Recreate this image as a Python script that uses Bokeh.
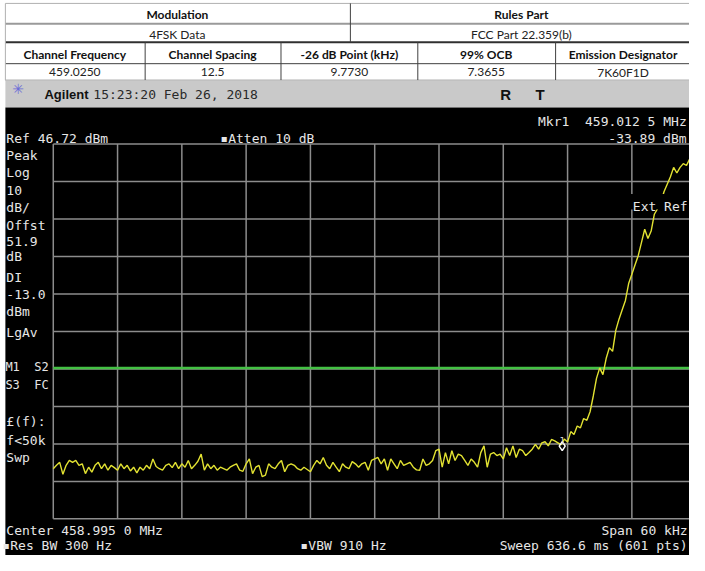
import numpy as np
from bokeh.plotting import figure
from bokeh.models import Range1d
from bokeh.core.properties import value
from bokeh.embed import file_html
from bokeh.resources import INLINE

# ---------------- data ----------------
center_mhz = 458.9950
span_khz = 60.0
ref_level_dbm = 46.72
db_per_div = 10.0
n_div = 10
display_line_dbm = -13.0
marker_freq_mhz = 459.0125
marker_level_dbm = -33.89
trace_step_khz = 0.3

trace_dbm = [
    -39.9, -39.0, -38.2, -41.4, -39.0, -37.7, -38.2, -37.7, -39.0, -38.6,
    -41.2, -39.5, -40.8, -39.0, -38.2, -39.9, -38.6, -40.3, -39.0, -39.6,
    -40.3, -38.6, -39.9, -39.0, -40.5, -39.5, -41.0, -39.5, -40.3, -39.0,
    -39.9, -37.3, -39.3, -39.9, -40.3, -39.0, -38.6, -39.6, -38.2, -39.9,
    -38.6, -39.5, -37.7, -39.9, -39.0, -37.9, -36.0, -40.3, -38.6, -39.9,
    -39.0, -40.3, -39.5, -39.9, -40.3, -39.5, -39.0, -38.6, -40.3, -40.6,
    -38.6, -37.3, -41.2, -39.5, -39.0, -42.0, -41.6, -38.6, -39.5, -39.9,
    -38.6, -37.7, -40.7, -39.0, -38.6, -39.0, -39.9, -40.3, -39.5, -40.1,
    -40.7, -39.0, -37.7, -38.6, -36.9, -39.0, -39.9, -38.2, -39.5, -40.7,
    -38.6, -39.5, -39.9, -38.0, -38.6, -39.5, -38.6, -38.2, -40.3, -37.7,
    -37.3, -36.9, -38.6, -37.3, -40.3, -37.3, -38.6, -39.9, -37.7, -39.0,
    -38.6, -38.2, -39.5, -40.2, -40.3, -37.3, -39.0, -38.6, -37.7, -35.1,
    -34.7, -39.5, -35.6, -38.6, -35.1, -37.7, -36.0, -36.4, -37.7, -39.0,
    -37.3, -38.2, -39.5, -35.6, -33.8, -39.5, -36.0, -35.6, -36.4, -36.0,
    -37.3, -34.3, -36.4, -33.8, -36.9, -34.7, -35.1, -36.4, -35.6, -34.7,
    -33.4, -34.7, -33.0, -32.7, -33.8, -32.1, -32.5, -33.0, -33.5, -32.0,
    -32.8, -30.0, -30.8, -28.5, -29.0, -26.5, -27.0, -24.7, -20.5, -15.8,
    -13.0, -14.8, -10.5, -7.6, -8.6, -3.0, 0.0, 2.5, 5.0, 9.5,
    12.0, 14.5, 17.0, 20.5, 24.0, 21.5, 23.5, 28.0, 29.5, 31.0,
    34.0, 36.0, 38.0, 40.5, 39.0, 40.5, 41.5, 41.0, 42.8, 43.5,
    44.0,
]

table_top_titles = ["Modulation", "Rules Part"]
table_top_values = ["4FSK Data", "FCC Part 22.359(b)"]
table_headers = ["Channel Frequency", "Channel Spacing", "-26 dB Point (kHz)",
                 "99% OCB", "Emission Designator"]
table_values = ["459.0250", "12.5", "9.7730", "7.3655", "7K60F1D"]

status_brand = "Agilent"
status_time = "15:23:20 Feb 26, 2018"
status_flags = ["R", "T"]

NB = "\u00a0"
left_panel_labels = ["Peak", "Log", "10", "dB/", "Offst", "51.9", "dB", "DI",
                     "-13.0", "dBm", "LgAv", "\u00a3(f):", "f<50k", "Swp"]
left_panel_pairs = ["M1" + NB * 2 + "S2", "S3" + NB * 2 + "FC"]
ref_text = "Ref 46.72 dBm"
atten_text = "\u25aaAtten 10 dB"
marker_text = ["Mkr1" + NB * 2 + "459.012 5 MHz", "-33.89 dBm"]
bottom_left = ["Center 458.995 0 MHz", "\u25aaRes BW 300 Hz"]
bottom_mid = "\u25aaVBW 910 Hz"
bottom_right = ["Span 60 kHz", "Sweep 636.6 ms (601 pts)"]
ext_ref_text = "Ext Ref"

# ---------------- layout (pixel frame of the picture) ----------------
W, H = 705, 571
FIG_W, FIG_H = 689, 555
GX0, GX1, GY0, GY1 = 54.0, 711.8, 147.7, 533.3

MONO = value("DejaVu Sans Mono")
SANS = value("Lato")
TXT = "#e6e6e6"

p = figure(width=FIG_W, height=FIG_H, x_range=Range1d(0, W), y_range=Range1d(H, 0),
           output_backend="svg", toolbar_location=None, min_border=0,
           x_axis_location=None, y_axis_location=None,
           background_fill_color="white", border_fill_color="white",
           outline_line_color=None)
p.grid.visible = False

f_lo = center_mhz - span_khz / 2000.0
f_hi = center_mhz + span_khz / 2000.0
mhz_per_px = (f_hi - f_lo) / (GX1 - GX0)
db_lo = ref_level_dbm - db_per_div * n_div
db_per_px = (db_per_div * n_div) / (GY1 - GY0)
p.extra_x_ranges = {"freq": Range1d(f_lo - GX0 * mhz_per_px, f_lo + (W - GX0) * mhz_per_px)}
p.extra_y_ranges = {"dbm": Range1d(ref_level_dbm - (H - GY0) * db_per_px,
                                   ref_level_dbm + GY0 * db_per_px)}
DR = dict(x_range_name="freq", y_range_name="dbm")

# ---- table ----
p.quad(left=[5], right=[705], top=[3], bottom=[82], fill_color="white", line_color=None)
row_y = [3, 24, 43, 65, 82]
row_w = [1, 2, 2, 1, 1]
row_c = ["#b0b0b0", "#9a9a9a", "#303030", "#404040", "#808080"]
p.segment(x0=[5] * 5, x1=[705] * 5, y0=row_y, y1=row_y, line_color=row_c, line_width=row_w)
col_x = [148, 287, 427, 568]
p.segment(x0=col_x, x1=col_x, y0=[43] * 4, y1=[82] * 4, line_color="#404040", line_width=1)
p.segment(x0=[358, 5], x1=[358, 5], y0=[3, 3], y1=[43, 82], line_color=["#404040", "#b0b0b0"], line_width=1)

p.text(x=[181, 533], y=[14.5, 14.5], text=table_top_titles, text_font=SANS, text_font_style="bold",
       text_font_size="12px", text_align="center", text_baseline="middle", text_color="#111111")
p.text(x=[181, 533], y=[35, 35], text=table_top_values, text_font=SANS,
       text_font_size="12px", text_align="center", text_baseline="middle", text_color="#222222")
col_c = [76, 217, 357, 497, 637]
p.text(x=col_c, y=[55.5] * 5, text=table_headers, text_font=SANS, text_font_style="bold",
       text_font_size="12px", text_align="center", text_baseline="middle", text_color="#111111")
p.text(x=col_c, y=[74] * 5, text=table_values, text_font=SANS,
       text_font_size="12px", text_align="center", text_baseline="middle", text_color="#222222")

# ---- status bar ----
p.quad(left=[5], right=[705], top=[82], bottom=[110], fill_color="#c9c9c9", line_color=None)
p.text(x=[18], y=[91], text=["\u2733"], text_font=value("DejaVu Sans"), text_font_size="14px",
       text_align="center", text_baseline="middle", text_color="#6b6bd8")
p.text(x=[45], y=[97], text=[status_brand], text_font=value("Liberation Sans"), text_font_style="bold",
       text_font_size="13px", text_baseline="alphabetic", text_color="#111111")
p.text(x=[95], y=[97], text=[status_time], text_font=MONO, text_font_size="13px",
       text_baseline="alphabetic", text_color="#2a2a2a")
p.text(x=[517, 552], y=[97, 97], text=status_flags, text_font=value("Liberation Sans"),
       text_font_style="bold", text_font_size="15px", text_align="center",
       text_baseline="alphabetic", text_color="#111111")

# ---- analyzer screen ----
p.quad(left=[5], right=[705], top=[110], bottom=[571], fill_color="black", line_color=None)

fx = [f_lo + k * (f_hi - f_lo) / n_div for k in range(n_div + 1)]
p.segment(x0=fx, x1=fx, y0=[db_lo] * len(fx), y1=[ref_level_dbm] * len(fx),
          line_color="#8c8c8c", line_width=1.5, **DR)
dy = [ref_level_dbm - k * db_per_div for k in range(n_div + 1)]
p.segment(x0=[f_lo] * len(dy), x1=[f_hi] * len(dy), y0=dy, y1=dy,
          line_color="#8c8c8c", line_width=1.5, **DR)

p.segment(x0=[f_lo], x1=[f_hi], y0=[display_line_dbm], y1=[display_line_dbm],
          line_color="#44c044", line_width=2.5, **DR)

freqs = f_lo + np.arange(len(trace_dbm)) * trace_step_khz / 1000.0
p.line(freqs, trace_dbm, line_color="#e2e232", line_width=1.4, **DR)

p.scatter(x=[marker_freq_mhz], y=[marker_level_dbm], marker="diamond", size=9,
          fill_color=None, line_color="white", line_width=1.5, **DR)
p.text(x=[marker_freq_mhz], y=[marker_level_dbm], text=["1"], text_font=MONO,
       text_font_size="9px", text_align="center", text_baseline="alphabetic",
       y_offset=-6, text_color="#dddddd", **DR)

# Ext Ref box hides the trace behind it
p.quad(left=[645], right=[705], top=[199], bottom=[215], fill_color="black", line_color=None)

mono_kw = dict(text_font=MONO, text_font_size="13px", text_color=TXT, text_baseline="alphabetic")
p.text(x=[647], y=[212], text=[ext_ref_text], **mono_kw)
p.text(x=[6], y=[142], text=[ref_text], **mono_kw)
p.text(x=[225], y=[142], text=[atten_text], **mono_kw)
p.text(x=[550, 702], y=[125, 142], text=marker_text, text_align=["left", "right"], **mono_kw)

left_y = [159, 177, 195, 213, 232, 248, 263, 285, 302, 320, 342, 433, 453, 470]
p.text(x=[6] * len(left_panel_labels), y=left_y, text=left_panel_labels, **mono_kw)
p.text(x=[5, 5], y=[377, 396], text=left_panel_pairs, text_font=MONO, text_font_size="12px",
       text_color=TXT, text_baseline="alphabetic")

p.text(x=[6, 2], y=[545, 561], text=bottom_left, **mono_kw)
p.text(x=[307], y=[561], text=[bottom_mid], **mono_kw)
p.text(x=[703, 703], y=[545, 561], text=bottom_right, text_align="right", **mono_kw)

open("out.html", "w").write(file_html(p, INLINE))
